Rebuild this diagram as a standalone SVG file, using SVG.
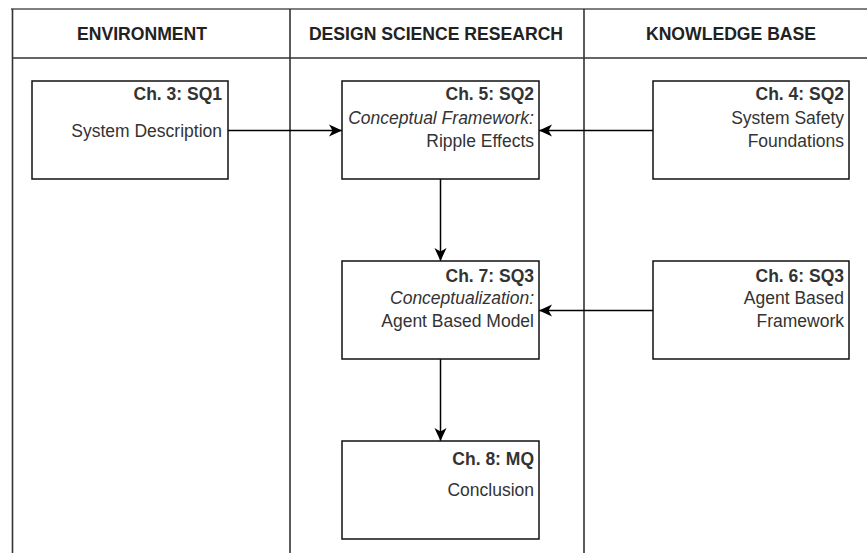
<svg xmlns="http://www.w3.org/2000/svg" width="867" height="553" viewBox="0 0 867 553">
  <style>
    .lane { stroke: #333; stroke-width: 1.6; fill: none; }
    .top { stroke: #7f7f7f; stroke-width: 2.2; fill: none; }
    .box { fill: #fff; stroke: #111; stroke-width: 1.5; }
    .hdr { font-family: "Liberation Sans", Arial, sans-serif; font-size: 17.6px; font-weight: bold; fill: #222; text-anchor: middle; }
    .t { font-family: "Liberation Sans", Arial, sans-serif; font-size: 17.5px; fill: #333; text-anchor: end; }
    .b { font-weight: bold; }
    .i { font-style: italic; }
    .edge { stroke: #000; stroke-width: 1.5; fill: none; marker-end: url(#arrow); }
  </style>
  <defs>
    <marker id="arrow" markerUnits="userSpaceOnUse" markerWidth="14" markerHeight="13" refX="13" refY="6.5" orient="auto">
      <path d="M0,0.5 L13,6.5 L0,12.5 L3.5,6.5 Z" fill="#000"/>
    </marker>
  </defs>

  <rect width="867" height="553" fill="#fff"/>

  <!-- swimlanes -->
  <g id="lanes">
    <line class="top" x1="11" y1="9" x2="867" y2="9"/>
    <line class="lane" x1="12.5" y1="9" x2="12.5" y2="553"/>
    <line class="lane" x1="290" y1="9" x2="290" y2="553"/>
    <line class="lane" x1="584" y1="9" x2="584" y2="553"/>
    <line class="lane" x1="12" y1="58" x2="867" y2="58"/>
    <text class="hdr" x="142" y="40">ENVIRONMENT</text>
    <text class="hdr" x="436" y="40">DESIGN SCIENCE RESEARCH</text>
    <text class="hdr" x="731" y="40">KNOWLEDGE BASE</text>
  </g>

  <!-- connectors -->
  <g id="connectors">
    <path class="edge" d="M228,130.5 H342"/>
    <path class="edge" d="M653,130.5 H539"/>
    <path class="edge" d="M440.5,179 V261"/>
    <path class="edge" d="M653,310.5 H539"/>
    <path class="edge" d="M440.5,359 V441"/>
  </g>

  <g id="ch3">
    <rect class="box" x="32" y="81" width="196" height="98"/>
    <text class="t b" x="222" y="100">Ch. 3: SQ1</text>
    <text class="t" x="222" y="137">System Description</text>
  </g>

  <g id="ch5">
    <rect class="box" x="342" y="81" width="197" height="98"/>
    <text class="t b" x="534" y="100">Ch. 5: SQ2</text>
    <text class="t i" x="534" y="124">Conceptual Framework:</text>
    <text class="t" x="534" y="146.5">Ripple Effects</text>
  </g>

  <g id="ch4">
    <rect class="box" x="653" y="81" width="196" height="98"/>
    <text class="t b" x="844" y="100">Ch. 4: SQ2</text>
    <text class="t" x="844" y="124">System Safety</text>
    <text class="t" x="844" y="146.5">Foundations</text>
  </g>

  <g id="ch7">
    <rect class="box" x="342" y="261" width="197" height="98"/>
    <text class="t b" x="534" y="281.5">Ch. 7: SQ3</text>
    <text class="t i" x="534" y="304">Conceptualization:</text>
    <text class="t" x="534" y="326.5">Agent Based Model</text>
  </g>

  <g id="ch6">
    <rect class="box" x="653" y="261" width="196" height="98"/>
    <text class="t b" x="844" y="281.5">Ch. 6: SQ3</text>
    <text class="t" x="844" y="304">Agent Based</text>
    <text class="t" x="844" y="326.5">Framework</text>
  </g>

  <g id="ch8">
    <rect class="box" x="342" y="441" width="197" height="98"/>
    <text class="t b" x="534" y="465">Ch. 8: MQ</text>
    <text class="t" x="534" y="495.5">Conclusion</text>
  </g>
</svg>
